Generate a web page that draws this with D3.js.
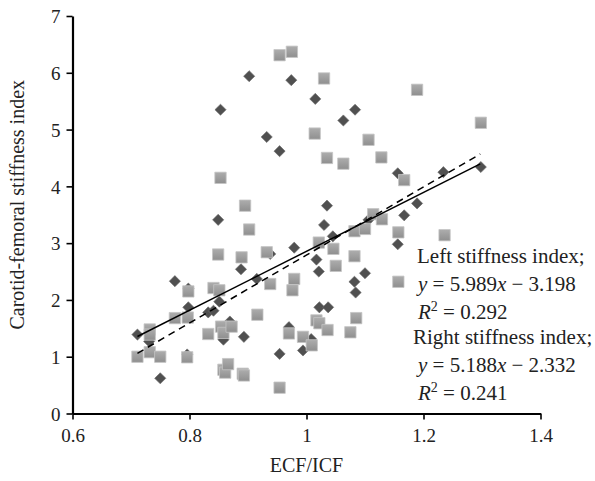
<!DOCTYPE html>
<html><head><meta charset="utf-8">
<script src="https://cdn.jsdelivr.net/npm/d3@7/dist/d3.min.js"></script>
<style>body{margin:0;background:#fff}svg{display:block}</style>
</head><body>
<svg id="chart" width="595" height="481"></svg>
<script>
// ---- data ----
const xTicks = [0.6, 0.8, 1.0, 1.2, 1.4];
const yTicks = [0, 1, 2, 3, 4, 5, 6, 7];
const xLabel = "ECF/ICF";
const yLabel = "Carotid-femoral stiffness index";

// dark diamonds
const diamondX = [0.902,0.853,0.849,0.974,1.015,1.083,1.063,0.932,0.954,1.156,1.035,1.189,1.167,1.234,1.298,1.030,1.045,1.156,0.979,0.938,0.888,1.017,1.021,1.100,0.915,1.082,1.084,1.022,1.037,0.970,1.008,0.994,0.954,0.893,0.775,0.798,0.798,0.832,0.841,0.851,0.711,0.731,0.750,0.796,0.858,0.869,1.106];
const diamondY = [5.94,5.35,3.41,5.87,5.54,5.35,5.16,4.87,4.62,4.23,3.66,3.70,3.49,4.25,4.34,3.32,3.12,2.98,2.92,2.81,2.54,2.71,2.50,2.47,2.37,2.32,2.13,1.87,1.87,1.52,1.31,1.11,1.05,1.35,2.33,2.20,1.87,1.78,1.81,1.97,1.39,1.27,0.62,1.04,1.30,1.62,3.41];

// light squares
const squareX = [0.853,0.895,0.954,0.975,1.030,1.189,1.014,1.106,1.035,1.063,1.128,1.167,1.114,1.298,1.236,1.129,0.902,1.082,1.100,1.157,1.021,1.046,0.932,0.889,1.050,1.082,0.938,0.979,0.976,1.157,1.085,0.916,1.017,1.022,1.036,1.075,0.970,0.994,1.009,0.891,0.954,0.849,0.798,0.841,0.851,0.775,0.797,0.732,0.732,0.711,0.732,0.750,0.796,0.832,0.854,0.858,0.872,0.858,0.861,0.866,0.893];
const squareY = [4.15,3.66,6.31,6.37,5.90,5.70,4.93,4.82,4.50,4.40,4.51,4.11,3.51,5.12,3.14,3.42,3.24,3.21,3.25,3.19,3.01,2.90,2.84,2.75,2.60,2.77,2.28,2.37,2.17,2.32,1.68,1.74,1.64,1.59,1.47,1.43,1.41,1.35,1.20,0.70,0.455,2.80,2.15,2.21,2.17,1.68,1.69,1.48,1.39,1.00,1.08,1.00,0.99,1.40,1.53,1.42,1.53,0.77,0.72,0.87,0.67];

// trend lines: [slope, intercept], x extent
const leftFit = [5.989, -3.198];   // dashed
const rightFit = [5.188, -2.332];  // solid
const fitRange = [0.711, 1.297];
const annotLines = ["Left stiffness index;", "y = 5.989x − 3.198", "R2 = 0.292", "Right stiffness index;", "y = 5.188x − 2.332", "R2 = 0.241"];

// ---- drawing ----
const svg = d3.select("#chart");
const font = "'Liberation Serif','Times New Roman',serif";
const x = d3.scaleLinear().domain([0.6, 1.4]).range([72.5, 540.5]);
const y = d3.scaleLinear().domain([0, 7]).range([413.5, 16]);

const defs = svg.append("defs");
const g = defs.append("linearGradient").attr("id","sqg").attr("x1",0).attr("y1",0).attr("x2",0).attr("y2",1);
g.append("stop").attr("offset","0%").attr("stop-color","#adadad");
g.append("stop").attr("offset","100%").attr("stop-color","#8f8f8f");

// axes
const xAxis = d3.axisBottom(x).tickValues(xTicks).tickSize(6).tickSizeOuter(0)
  .tickFormat(d => d3.format("")(+d.toFixed(1)));
const yAxis = d3.axisLeft(y).tickValues(yTicks).tickSize(6).tickSizeOuter(0).tickFormat(d3.format("d"));

const gx = svg.append("g").attr("transform", `translate(0,${y(0)})`).call(xAxis);
const gy = svg.append("g").attr("transform", `translate(${x(0.6)},0)`).call(yAxis);
[gx, gy].forEach(a => {
  a.select(".domain").attr("stroke", "#000").attr("stroke-width", 2.2);
  a.selectAll(".tick line").attr("stroke", "#000").attr("stroke-width", 1.6);
  a.selectAll("text").attr("font-family", font).attr("font-size", 19).attr("fill", "#222");
});
gx.selectAll("text").attr("dy", "1.03em");
gy.selectAll("text").attr("x", -12).attr("dy", "0.35em");

// axis titles
svg.append("text").attr("x", x(1.0)).attr("y", 472).attr("text-anchor", "middle")
  .attr("font-family", font).attr("font-size", 20).attr("fill", "#222").text(xLabel);
svg.append("text").attr("transform", `translate(24,${(y(0)+y(7))/2 - 10}) rotate(-90)`).attr("text-anchor", "middle")
  .attr("font-family", font).attr("font-size", 20).attr("fill", "#222").text(yLabel);

// diamonds
const diamondData = diamondX.map((v, i) => [v, diamondY[i]]);
const squareData = squareX.map((v, i) => [v, squareY[i]]);
svg.append("g").selectAll("path").data(diamondData).join("path")
  .attr("d", d3.symbol(d3.symbolSquare, 62)())
  .attr("transform", d => `translate(${x(d[0])},${y(d[1])}) rotate(45)`)
  .attr("fill", "#505050").attr("stroke", "#6a6a6a").attr("stroke-width", 0.6);

// squares
svg.append("g").selectAll("path").data(squareData).join("path")
  .attr("d", d3.symbol(d3.symbolSquare, 128)())
  .attr("transform", d => `translate(${x(d[0])},${y(d[1])})`)
  .attr("fill", "url(#sqg)").attr("stroke", "#c4c4c4").attr("stroke-width", 0.8);

// trend lines
const line = d3.line().x(d => x(d[0])).y(d => y(d[1]));
const fitPts = f => fitRange.map(v => [v, f[0] * v + f[1]]);
svg.append("path").attr("d", line(fitPts(rightFit))).attr("fill", "none").attr("stroke", "#000").attr("stroke-width", 1.5);
svg.append("path").attr("d", line(fitPts(leftFit))).attr("fill", "none").attr("stroke", "#000").attr("stroke-width", 1.5).attr("stroke-dasharray", "7,5");

// annotation
const ann = svg.append("g").attr("font-family", font).attr("font-size", 21).attr("fill", "#222");
const baseY = [263, 291, 319, 344, 372, 400];
const startX = [417, 418, 418, 413, 418, 418];
annotLines.forEach((t, i) => {
  const tx = ann.append("text").attr("x", startX[i]).attr("y", baseY[i]);
  if (t.startsWith("y = ")) {
    const m = t.match(/^y = ([\d.]+)x − ([\d.]+)$/);
    tx.append("tspan").attr("font-style", "italic").text("y");
    tx.append("tspan").text(" = " + m[1]);
    tx.append("tspan").attr("font-style", "italic").text("x");
    tx.append("tspan").text(" − " + m[2]);
  } else if (t.startsWith("R2")) {
    tx.append("tspan").attr("font-style", "italic").text("R");
    tx.append("tspan").attr("font-size", 14).attr("dy", -8).text("2");
    tx.append("tspan").attr("dy", 8).text(t.slice(2));
  } else {
    tx.text(t);
  }
});
</script>
</body></html>
